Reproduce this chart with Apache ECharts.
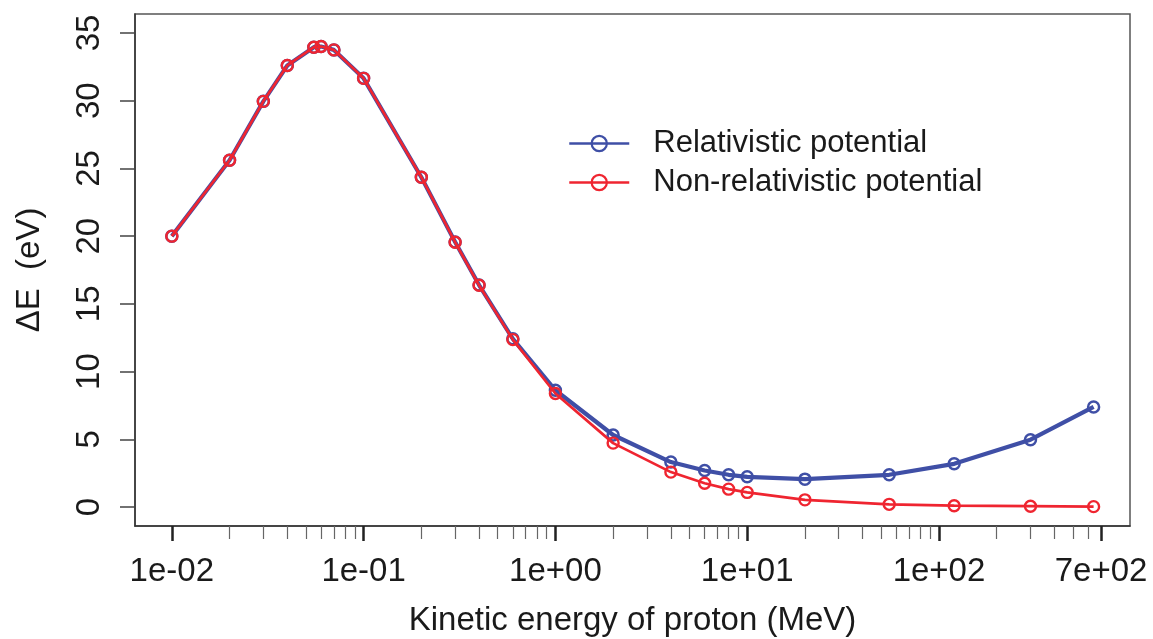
<!DOCTYPE html>
<html><head><meta charset="utf-8">
<script src="https://cdn.jsdelivr.net/npm/echarts@6/dist/echarts.min.js"></script>
<style>html,body{margin:0;padding:0;background:#fff}#c{width:1153px;height:639px}</style>
</head><body><div id="c"></div>
<script>
const energy = [0.01, 0.02, 0.03, 0.04, 0.055, 0.06, 0.07, 0.1, 0.2, 0.3, 0.4, 0.6, 1, 2, 4, 6, 8, 10, 20, 55, 120, 300, 640];
const relativistic = [20.0, 25.6, 29.95, 32.6, 33.95, 34.0, 33.75, 31.65, 24.35, 19.57, 16.39, 12.42, 8.62, 5.32, 3.32, 2.7, 2.38, 2.23, 2.06, 2.38, 3.19, 4.97, 7.39];
const nonRelativistic = [20.0, 25.6, 29.95, 32.6, 33.95, 34.0, 33.75, 31.65, 24.35, 19.55, 16.37, 12.36, 8.38, 4.72, 2.58, 1.76, 1.32, 1.08, 0.53, 0.2, 0.1, 0.06, 0.03];
const xMajorTicks = [0.01, 0.1, 1, 10, 100, 700];
const xTickLabels = ['1e-02', '1e-01', '1e+00', '1e+01', '1e+02', '7e+02'];
const xMinorTicks = [0.02, 0.03, 0.04, 0.05, 0.06, 0.07, 0.08, 0.09,
  0.2, 0.3, 0.4, 0.5, 0.6, 0.7, 0.8, 0.9,
  2, 3, 4, 5, 6, 7, 8, 9,
  20, 30, 40, 50, 60, 70, 80, 90,
  200, 300, 400, 500, 600];
const yTicks = [0, 5, 10, 15, 20, 25, 30, 35];
const seriesNames = ['Relativistic potential', 'Non-relativistic potential'];

const BLUE = '#3F4FA6', RED = '#EF2530', INK = '#1a1a1a';
const FONT = "'Liberation Sans', Arial, sans-serif";
const xMin = Math.pow(10, -2.192), xMax = Math.pow(10, 2.996);

function labelFor(v) {
  const i = xMajorTicks.findIndex(t => Math.abs(t - v) / t < 1e-6);
  return i >= 0 ? xTickLabels[i] : '';
}

const chart = echarts.init(document.getElementById('c'), null, {renderer: 'canvas'});
chart.setOption({
  animation: false,
  backgroundColor: '#fff',
  textStyle: {fontFamily: FONT},
  grid: {left: 135, right: 23, top: 14, bottom: 113, show: true, containLabel: false, outerBoundsMode: 'none',
         borderColor: '#555', borderWidth: 1.5, backgroundColor: 'transparent'},
  legend: {
    left: 563, top: 123, orient: 'vertical',
    itemWidth: 60, itemHeight: 19, itemGap: 8,
    data: seriesNames,
    lineStyle: {width: 2.5},
    itemStyle: {borderWidth: 2.2},
    textStyle: {fontSize: 31, color: INK, fontFamily: FONT, lineHeight: 31, padding: [0, 0, 0, 19]},
    selectedMode: false
  },
  xAxis: [{
    type: 'log', logBase: 10, min: xMin, max: xMax, position: 'bottom',
    name: 'Kinetic energy of proton (MeV)', nameLocation: 'middle', nameGap: 78,
    nameTextStyle: {fontSize: 33, color: INK, fontFamily: FONT},
    axisLine: {show: true, onZero: false, lineStyle: {color: '#333', width: 1.5}},
    axisTick: {show: true, customValues: xMajorTicks, length: 15, lineStyle: {color: '#222', width: 2.5}},
    axisLabel: {show: true, customValues: xMajorTicks, formatter: labelFor, fontSize: 33, color: INK, margin: 29, fontFamily: FONT},
    splitLine: {show: false}, minorTick: {show: false}
  }, {
    type: 'log', logBase: 10, min: xMin, max: xMax, position: 'bottom',
    axisLine: {show: false, onZero: false},
    axisTick: {show: true, customValues: xMinorTicks, length: 13, lineStyle: {color: '#666', width: 1.2}},
    axisLabel: {show: false},
    splitLine: {show: false}
  }],
  yAxis: {
    type: 'value', min: -1.4, max: 36.4,
    name: 'ΔE  (eV)', nameLocation: 'middle', nameGap: 89, nameRotate: 90,
    nameTextStyle: {fontSize: 33, color: INK, fontFamily: FONT},
    axisLine: {show: true, onZero: false, lineStyle: {color: '#333', width: 1.5}},
    axisTick: {show: true, customValues: yTicks, length: 15, lineStyle: {color: '#444', width: 1.5}},
    axisLabel: {show: true, customValues: yTicks, rotate: 90, fontSize: 33, color: INK, margin: 29, fontFamily: FONT},
    splitLine: {show: false}
  },
  series: [{
    name: seriesNames[0], type: 'line', xAxisIndex: 0,
    data: energy.map((e, i) => [e, relativistic[i]]),
    symbol: 'circle', symbolSize: 11, showAllSymbol: true,
    lineStyle: {color: BLUE, width: 4.2},
    itemStyle: {color: 'rgba(0,0,0,0)', borderColor: BLUE, borderWidth: 2.5},
    emphasis: {disabled: true}, z: 2
  }, {
    name: seriesNames[1], type: 'line', xAxisIndex: 0,
    data: energy.map((e, i) => [e, nonRelativistic[i]]),
    symbol: 'circle', symbolSize: 11, showAllSymbol: true,
    lineStyle: {color: RED, width: 2.7},
    itemStyle: {color: 'rgba(0,0,0,0)', borderColor: RED, borderWidth: 2.4},
    emphasis: {disabled: true}, z: 3
  }]
});
</script></body></html>
